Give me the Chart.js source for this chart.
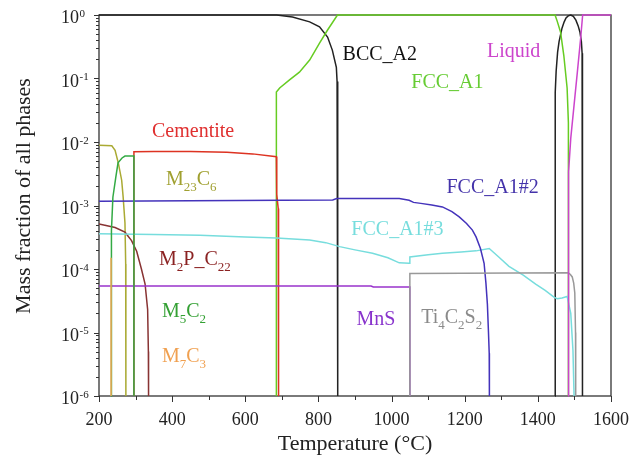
<!DOCTYPE html>
<html><head><meta charset="utf-8">
<script src="https://cdn.jsdelivr.net/npm/chart.js@4.4.1/dist/chart.umd.min.js"></script>
<style>html,body{margin:0;padding:0;background:#fff;}#wrap{width:642px;height:457px;}</style>
</head><body><div id="wrap"><canvas id="c" width="642" height="457"></canvas></div>
<script>
// ---------- data (temperature °C, mass fraction) ----------
const X_TICKS = [200, 400, 600, 800, 1000, 1200, 1400, 1600];
const Y_EXPONENTS = [0, -1, -2, -3, -4, -5, -6];

const BCC_A2 = [[200,1],[686,1],[729,0.93],[776,0.78],[803,0.65],[825,0.45],[838,0.28],[849,0.15],[851,0.09],[852.5,0.035],[853,1e-6],[1000,null],
  [1447,1e-6],[1447,0.01],[1448,0.06],[1450,0.13],[1454,0.26],[1458,0.38],[1466,0.62],[1472,0.78],[1477,0.9],[1483,0.97],[1490,1],[1497,0.95],[1504,0.83],[1510,0.68],[1515,0.54],[1519,0.38],[1521,0.25],[1522,0.126],[1522,1e-6]];
const FCC_A1 = [[685,1e-6],[685,0.061],[694,0.071],[721,0.095],[748,0.126],[776,0.195],[803,0.36],[825,0.58],[852,1],[1447,1],[1452,0.83],[1462,0.54],[1471,0.23],[1480,0.071],[1483.5,0.02],[1483.5,1e-6]];
const LIQUID = [[1483,1e-6],[1483,1e-3],[1485,3.4e-3],[1490,0.0115],[1499,0.038],[1508,0.126],[1517,0.43],[1522.5,1],[1600,1]];
const CEMENTITE = [[295.5,1e-6],[295.5,7e-3],[350,7.1e-3],[450,7.1e-3],[550,6.9e-3],[620,6.5e-3],[685,5.85e-3],[686,1.5e-3],[690,9e-4],[691,1e-4],[691,1e-6]];
const M23C6 = [[200,8.9e-3],[235,8.7e-3],[244,7.4e-3],[253,4.6e-3],[262,2.5e-3],[266,1.37e-3],[271,5.3e-4],[273,1.2e-4],[273.5,1e-6]];
const M5C2 = [[233,1e-6],[233,1.5e-4],[235,4e-4],[238,1.35e-3],[246,2.8e-3],[252,4.7e-3],[263,5.6e-3],[271,6e-3],[295.5,6e-3],[295.5,1e-6]];
const M7C3 = [[233,1e-6],[233,1.5e-4]];
const M2P_C22 = [[200,5.1e-4],[216,4.9e-4],[244,4.5e-4],[271,3.8e-4],[289,2.8e-4],[303,1.9e-4],[316,1e-4],[326,5.8e-5],[333,2.3e-5],[335,5e-6],[335.5,1e-6]];
const FCC_A1_2 = [[200,1.17e-3],[450,1.19e-3],[700,1.21e-3],[839,1.22e-3],[850,1.29e-3],[1021,1.29e-3],[1048,1.21e-3],[1060,1.12e-3],[1080,1.08e-3],[1110,1.02e-3],[1139,9.5e-4],[1165,8e-4],[1185,6.6e-4],[1205,5.2e-4],[1221,4.1e-4],[1231,3.2e-4],[1243,2.1e-4],[1253,1.23e-4],[1258,6e-5],[1262,2.8e-5],[1265,1e-5],[1267,4.7e-6],[1267.5,1e-6]];
const FCC_A1_3 = [[200,3.6e-4],[350,3.5e-4],[476,3.4e-4],[600,3.2e-4],[685,3.07e-4],[776,2.85e-4],[820,2.6e-4],[858,2.25e-4],[900,2e-4],[948,1.77e-4],[990,1.5e-4],[1021,1.25e-4],[1048,1.23e-4],[1050,1.55e-4],[1100,1.68e-4],[1139,1.77e-4],[1190,1.85e-4],[1231,1.93e-4],[1267,2.1e-4],[1290,1.6e-4],[1321,1.1e-4],[1360,8e-5],[1394,5.8e-5],[1420,4.6e-5],[1444,3.6e-5],[1453,3.4e-5],[1466,3.5e-5],[1480,3.7e-5],[1490,2e-5],[1496,5.2e-6],[1499,1e-6]];
const MNS = [[200,5.4e-5],[944,5.4e-5],[950,5.2e-5],[1050,5.2e-5],[1050,1e-6]];
const TI4C2S2 = [[1050,1e-6],[1050,8.5e-5],[1483,8.7e-5],[1489,8.2e-5],[1494,7.5e-5],[1498,6e-5],[1501,4.2e-5],[1503,1e-5],[1503.5,1e-6]];

// ---------- text annotations (temperature, log10 fraction) ----------
const LABELS = [
  {parts:[['Cementite']], T:345, L:-1.923, color:'#e03030'},
  {parts:[['M'],['23','sub'],['C'],['6','sub']], T:383, L:-2.679, color:'#a0a030'},
  {parts:[['M'],['2','sub'],['P_C'],['22','sub']], T:364, L:-3.94, color:'#8b2222'},
  {parts:[['M'],['5','sub'],['C'],['2','sub']], T:372, L:-4.76, color:'#33a033'},
  {parts:[['M'],['7','sub'],['C'],['3','sub']], T:372, L:-5.469, color:'#f0a050'},
  {parts:[['BCC_A2']], T:866, L:-0.709, color:'#111111'},
  {parts:[['FCC_A1']], T:1054, L:-1.15, color:'#66cc33'},
  {parts:[['Liquid']], T:1261, L:-0.662, color:'#cc44cc'},
  {parts:[['FCC_A1#2']], T:1150, L:-2.805, color:'#4433aa'},
  {parts:[['FCC_A1#3']], T:890, L:-3.467, color:'#77dddd'},
  {parts:[['MnS']], T:904, L:-4.886, color:'#8833cc'},
  {parts:[['Ti'],['4','sub'],['C'],['2','sub'],['S'],['2','sub']], T:1081, L:-4.854, color:'#8a8a8a'}
];

const FONT = "'Liberation Serif','Times New Roman',serif";
const toXY = a => a.map(p => ({x:p[0], y:p[1]}));
const ds = (label, arr, color) => ({label, data: toXY(arr), borderColor: color, backgroundColor: color,
  borderWidth: 1.5, pointRadius: 0, tension: 0, fill: false, clip: 4, spanGaps: false});

function drawRich(ctx, x, y, parts, color, size){
  ctx.fillStyle = color; ctx.textAlign = 'left'; ctx.textBaseline = 'alphabetic';
  let cx = x;
  for (const [txt, kind] of parts){
    if (kind === 'sub'){ ctx.font = (size*0.65)+'px '+FONT; ctx.fillText(txt, cx, y+6); }
    else if (kind === 'sup'){ ctx.font = (size*0.65)+'px '+FONT; ctx.fillText(txt, cx, y-7); }
    else { ctx.font = size+'px '+FONT; ctx.fillText(txt, cx, y); }
    cx += ctx.measureText(txt).width;
  }
}

const deco = {
  id: 'deco',
  beforeDatasetsDraw(chart){
    const {ctx, chartArea: a} = chart;
    ctx.save(); ctx.strokeStyle = '#333'; ctx.lineWidth = 1.3;
    ctx.strokeRect(a.left, a.top, a.right - a.left, a.bottom - a.top);
    ctx.restore();
  },
  afterDraw(chart){
    const {ctx, chartArea: a, scales: {x, y}} = chart;
    ctx.save();
    ctx.strokeStyle = '#333'; ctx.lineWidth = 1;
    const seg = (x1,y1,x2,y2) => { ctx.beginPath(); ctx.moveTo(x1,y1); ctx.lineTo(x2,y2); ctx.stroke(); };
    for (let t = X_TICKS[0]; t <= X_TICKS[X_TICKS.length-1]; t += 100){
      const px = Math.round(x.getPixelForValue(t)) + 0.5;
      seg(px, a.bottom, px, a.bottom + (t % 200 === 0 ? 6 : 4));
    }
    for (const e of Y_EXPONENTS){
      for (let m = 1; m <= 9; m++){
        const v = m * Math.pow(10, e); if (v > 1.0000001) break;
        const py = Math.round(y.getPixelForValue(v)) + 0.5;
        seg(a.left - (m === 1 ? 5 : 3), py, a.left, py);
      }
    }
    // y tick labels with superscript exponents
    for (const e of Y_EXPONENTS){
      const py = y.getPixelForValue(Math.pow(10, e));
      ctx.fillStyle = '#222'; ctx.textAlign = 'left'; ctx.textBaseline = 'alphabetic';
      ctx.font = '18px ' + FONT; ctx.fillText('10', 61, py + 8);
      const w = ctx.measureText('10').width;
      ctx.font = '11px ' + FONT; ctx.fillText(String(e), 61 + w + 0.5, py + 1.5);
    }
    // y axis title
    ctx.save(); ctx.translate(24, 196); ctx.rotate(-Math.PI/2);
    ctx.font = '22px ' + FONT; ctx.fillStyle = '#222'; ctx.textAlign = 'center'; ctx.textBaseline = 'middle';
    ctx.fillText('Mass fraction of all phases', 0, 0); ctx.restore();
    // phase labels
    for (const l of LABELS){
      drawRich(ctx, x.getPixelForValue(l.T), y.getPixelForValue(Math.pow(10, l.L)), l.parts, l.color, 20);
    }
    ctx.restore();
  }
};

new Chart(document.getElementById('c'), {
  type: 'line',
  data: { datasets: [
    ds('Liquid', LIQUID, '#cc44cc'),
    ds('M7C3', M7C3, '#f0a855'),
    ds('M5C2', M5C2, '#33aa44'),
    ds('Ti4C2S2', TI4C2S2, '#999999'),
    ds('FCC_A1#2', FCC_A1_2, '#4433bb'),
    ds('FCC_A1#3', FCC_A1_3, '#77dddd'),
    ds('MnS', MNS, '#9933cc'),
    ds('M2P_C22', M2P_C22, '#883333'),
    ds('M23C6', M23C6, '#aaaa33'),
    ds('Cementite', CEMENTITE, '#dd3322'),
    ds('FCC_A1', FCC_A1, '#66cc22'),
    ds('BCC_A2', BCC_A2, '#222222')
  ]},
  options: {
    responsive: false, animation: false, devicePixelRatio: 1,
    layout: { padding: { top: 15, right: 30, left: 0, bottom: 0 } },
    plugins: { legend: { display: false }, tooltip: { enabled: false } },
    scales: {
      x: { type: 'linear', min: 200, max: 1600,
        afterBuildTicks: s => { s.ticks = X_TICKS.map(v => ({value: v})); },
        afterFit: s => { s.height = 61; },
        grid: { display: false, drawTicks: false }, border: { display: false },
        ticks: { color: '#222', font: { family: FONT, size: 18 }, padding: 13, maxRotation: 0, autoSkip: false,
          callback: v => String(v) },
        title: { display: true, text: 'Temperature (°C)', color: '#222', font: { family: FONT, size: 22, lineHeight: 1 }, padding: { top: 0, bottom: 2 } }
      },
      y: { type: 'logarithmic', min: 1e-6, max: 1,
        afterFit: s => { s.width = 99; },
        grid: { display: false, drawTicks: false }, border: { display: false },
        ticks: { display: false }
      }
    }
  },
  plugins: [deco]
});
</script></body></html>
